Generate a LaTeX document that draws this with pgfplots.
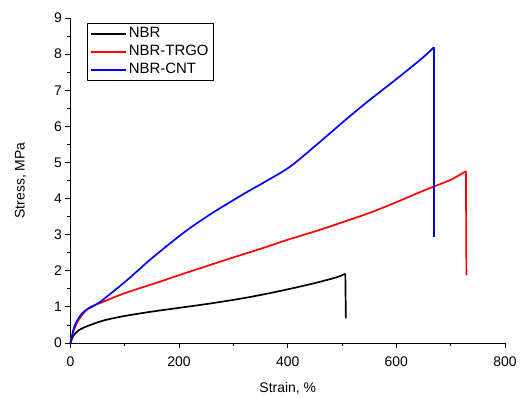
\documentclass[border=0pt]{standalone}
\usepackage{fontspec}
\setmainfont{Liberation Sans}
\usepackage{pgfplots}
\pgfplotsset{compat=1.18}
\begin{document}
\begin{tikzpicture}
\begin{axis}[
  scale only axis,
  width=434.5bp, height=325bp,
  xmin=0, xmax=800, ymin=0, ymax=9,
  axis x line*=bottom, axis y line*=left,
  axis line style={line width=0.8pt},
  tick align=outside,
  major tick length=5bp, minor tick length=3bp,
  every tick/.style={line width=0.8pt, black},
  xtick={0,200,400,600,800}, ytick={0,1,...,9},
  minor x tick num=1, minor y tick num=1,
  /pgf/number format/assume math mode=true,
  tick label style={font=\fontsize{14}{16}\selectfont},
  xticklabel style={yshift=-5bp},
  label style={font=\fontsize{14}{16}\selectfont},
  xlabel={Strain, \%}, ylabel={Stress, MPa},
  xlabel style={yshift=-9bp},
  ylabel style={yshift=21bp},
  legend cell align=left,
  legend style={at={(axis cs:31,8.86)}, anchor=north west,
    font=\fontsize{15}{17}\selectfont, row sep=0pt, inner xsep=3pt, inner ysep=1.5pt,
    nodes={inner sep=1.8pt, text height=11bp, text depth=3.5bp}},
  legend image code/.code={\draw[mark repeat=2,mark phase=2,#1] plot coordinates {(0cm,0cm) (1.23cm,0cm)};},
  clip=false,
]
\addplot[black, line width=1.7pt, smooth, tension=0.5] coordinates {
(0,0) (3,0.13) (8,0.25) (15,0.35) (25,0.43) (42,0.53) (60,0.62) (80,0.69) (104,0.76)
(150,0.87) (208,0.99) (260,1.1) (318,1.24) (360,1.36) (404,1.5) (450,1.66) (490,1.82)
(506,1.92)};
\addlegendentry{NBR}
\addplot[red, line width=1.7pt, smooth, tension=0.5] coordinates {
(0,0) (5,0.3) (10,0.5) (20,0.75) (30,0.92) (40,1.02) (60,1.14) (100,1.38) (165,1.7)
(200,1.88) (257,2.16) (300,2.37) (350,2.61) (400,2.86) (450,3.09) (500,3.34) (550,3.6)
(600,3.9) (650,4.22) (700,4.52) (728,4.76)};
\addlegendentry{NBR-TRGO}
\addplot[blue, line width=1.7pt, smooth, tension=0.5] coordinates {
(0,0) (5,0.35) (10,0.56) (20,0.8) (30,0.93) (42,1.02) (60,1.2) (104,1.74) (150,2.35)
(208,3.05) (257,3.56) (318,4.12) (360,4.48) (404,4.88) (450,5.45) (508,6.2) (550,6.72)
(606,7.38) (650,7.92) (669,8.19)};
\addlegendentry{NBR-CNT}
\addplot[black, line width=1.7pt, forget plot] coordinates {(506,1.92) (507,0.68)};
\addplot[red, line width=1.7pt, forget plot] coordinates {(728,4.76) (729,1.88)};
\addplot[blue, line width=1.7pt, forget plot] coordinates {(669,8.19) (669,2.93)};
\coordinate (O) at (rel axis cs:0,0);
\end{axis}
\path (O) ++(-70.5bp,-51bp) rectangle ++(520bp,394bp);
\end{tikzpicture}
\end{document}
